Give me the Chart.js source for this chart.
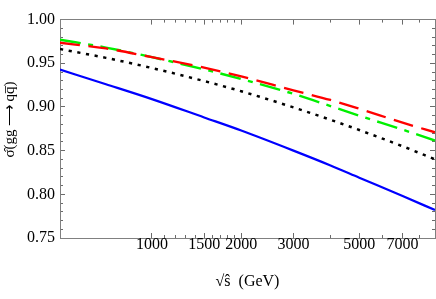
<!DOCTYPE html>
<html><head><meta charset="utf-8">
<script src="https://cdn.jsdelivr.net/npm/chart.js@4.4.1/dist/chart.umd.min.js"></script>
<style>html,body{margin:0;padding:0;background:#fff;}#wrap{width:436px;height:299px;}</style>
</head><body><div id="wrap"><canvas id="c" width="436" height="299"></canvas></div>
<script>
// sqrt(s-hat) in GeV
const energies = [490, 700, 1000, 1500, 2000, 3000, 4000, 5000, 7000, 9000];
const sigmaBlue  = [0.9427, 0.926, 0.909, 0.888, 0.873, 0.850, 0.833, 0.819, 0.798, 0.782];
const sigmaBlack = [0.9663, 0.9562, 0.9446, 0.9296, 0.918, 0.8995, 0.8853, 0.8736, 0.855, 0.840];
const sigmaGreen = [0.977, 0.968, 0.957, 0.943, 0.932, 0.915, 0.901, 0.890, 0.874, 0.8616];
const sigmaRed   = [0.9735, 0.967, 0.957, 0.945, 0.935, 0.919, 0.908, 0.898, 0.882, 0.871];

const xMajorTicks = [1000, 1500, 2000, 3000, 5000, 7000];
const xMinorTicks = [1100, 1200, 1300, 1400, 1600, 1700, 1800, 1900, 4000, 6000, 8000];
const yMajorTicks = [0.75, 0.80, 0.85, 0.90, 0.95, 1.00];
const yMinorTicks = [0.76,0.77,0.78,0.79,0.81,0.82,0.83,0.84,0.86,0.87,0.88,0.89,0.91,0.92,0.93,0.94,0.96,0.97,0.98,0.99];

const X_MIN = 490, X_MAX = 9000, Y_MIN = 0.75, Y_MAX = 1.0;
const FONT = {family: "'Liberation Serif','Times New Roman',serif", size: 16};
const FRAME = '#808080';
const TICK = '#6a6a6a';

function pts(arr){ return energies.map((e,i)=>({x:e, y:arr[i]})); }
function fixed(size){ return s => { if (s.isHorizontal()) s.height = size; else s.width = size; }; }
function setTicks(list){ return s => { s.ticks = list.map(v => ({value: v})); }; }

function xAxis(pos, list, len, size, extra){
  return Object.assign({
    type:'logarithmic', position:pos, min:X_MIN, max:X_MAX, bounds:'data',
    afterBuildTicks:setTicks(list), afterFit:fixed(size),
    grid:{display:true, drawOnChartArea:false, drawTicks:true, tickLength:-len, color:TICK, tickColor:TICK, lineWidth:1, tickWidth:1},
    border:{display:true, color:FRAME, width:1},
    ticks:{display:false}
  }, extra||{});
}
function yAxis(pos, list, len, size, extra){
  return Object.assign({
    type:'linear', position:pos, min:Y_MIN, max:Y_MAX,
    afterBuildTicks:setTicks(list), afterFit:fixed(size),
    grid:{display:true, drawOnChartArea:false, drawTicks:true, tickLength:-len, color:TICK, tickColor:TICK, lineWidth:1, tickWidth:1},
    border:{display:true, color:FRAME, width:1},
    ticks:{display:false}
  }, extra||{});
}

const common = {pointRadius:0, borderCapStyle:'butt', fill:false, cubicInterpolationMode:'monotone', xAxisID:'x', yAxisID:'y'};

new Chart(document.getElementById('c'), {
  type:'line',
  data:{datasets:[
    Object.assign({label:'red', data:pts(sigmaRed), borderColor:'rgb(255,0,0)', borderWidth:2.3, borderDash:[20,8.6]}, common),
    Object.assign({label:'green', data:pts(sigmaGreen), borderColor:'rgb(0,240,0)', borderWidth:2.4, borderDash:[21,7.5,5,7.5]}, common),
    Object.assign({label:'black', data:pts(sigmaBlack), borderColor:'#000', borderWidth:2.5, borderDash:[3.2,5.6]}, common),
    Object.assign({label:'blue', data:pts(sigmaBlue), borderColor:'rgb(0,0,255)', borderWidth:2.2}, common)
  ]},
  options:{
    responsive:false, animation:false, devicePixelRatio:1,
    layout:{padding:0},
    plugins:{legend:{display:false}, tooltip:{enabled:false}},
    scales:{
      x: xAxis('bottom', xMajorTicks, 5, 61, {
        weight:1,
        ticks:{display:true, autoSkip:false, maxRotation:0, minRotation:0, padding:2, color:'#000', font:FONT, callback:v=>String(v)},
        title:{display:true, text:'\u221A\u015D  (GeV)', color:'#000', font:FONT, padding:{top:0,bottom:8}}
      }),
      xMinor: xAxis('bottom', xMinorTicks, 3, 0, {weight:-1, border:{display:false}}),
      xTop: xAxis('top', xMajorTicks, 5, 6, {weight:1}),
      xTopMinor: xAxis('top', xMinorTicks, 3, 0, {weight:-1, border:{display:false}}),
      y: yAxis('left', yMajorTicks, 5, 60, {
        weight:1,
        ticks:{display:true, padding:10, color:'#000', font:FONT, callback:v=>Number(v).toFixed(2)},
        title:{display:true, text:'\u2003\u2005\u03C3\u0302(gg\u2009\u27F6\u2009qq\u0305)', color:'#000', font:{family:FONT.family, size:15}, padding:{top:1,bottom:0}}
      }),
      yMinor: yAxis('left', yMinorTicks, 3, 0, {weight:-1, border:{display:false}}),
      yRight: yAxis('right', yMajorTicks, 5, 1, {weight:1}),
      yRightMinor: yAxis('right', yMinorTicks, 3, 0, {weight:-1, border:{display:false}})
    }
  }
});
</script></body></html>
